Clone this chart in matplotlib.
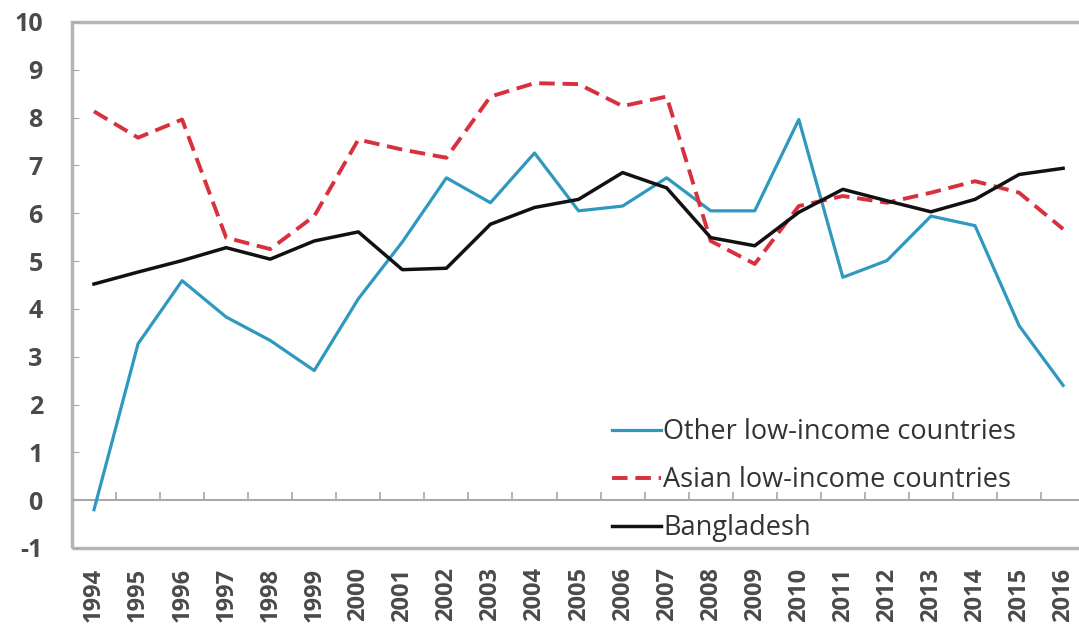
import matplotlib

matplotlib.use("Agg")
from matplotlib import pyplot as plt
from matplotlib.patches import Rectangle

plt.rcParams["font.family"] = ["Open Sans", "DejaVu Sans"]

years = [str(y) for y in range(1994, 2017)]
other_low = [-0.2, 3.27, 4.59, 3.83, 3.34, 2.71, 4.21, 5.4, 6.74, 6.22, 7.26, 6.05,
             6.15, 6.74, 6.05, 6.05, 7.96, 4.66, 5.01, 5.94, 5.74, 3.65, 2.4]
asian_low = [8.13, 7.58, 7.96, 5.49, 5.25, 5.94, 7.54, 7.33, 7.16, 8.44, 8.72, 8.7,
             8.24, 8.44, 5.42, 4.94, 6.15, 6.36, 6.22, 6.43, 6.67, 6.43, 5.67]
bangladesh = [4.52, 4.77, 5.01, 5.28, 5.04, 5.42, 5.61, 4.82, 4.85, 5.77, 6.12, 6.29,
              6.85, 6.53, 5.49, 5.32, 6.02, 6.5, 6.26, 6.03, 6.29, 6.81, 6.94]
yticks = list(range(-1, 11))

fig = plt.figure(figsize=(10.79, 6.27), dpi=100)
ax = fig.add_axes([0.0667, 0.126, 0.939, 0.839])

x = list(range(len(years)))
ax.plot(x, other_low, color="#2f98be", lw=2.3, label="Other low-income countries")
ax.plot(x, asian_low, color="#d8303c", lw=2.8, ls=(0, (4, 2)),
        label="Asian low-income countries")
ax.plot(x, bangladesh, color="#111111", lw=2.5, label="Bangladesh")

ax.set_xlim(-0.5, len(years) - 0.5)
ax.set_ylim(-1, 10)

for s in ax.spines.values():
    s.set_visible(False)
ax.add_patch(Rectangle((0, 0), 1, 1, transform=ax.transAxes, fill=False,
                       ec="#b5b5b5", lw=2.5, clip_on=False))

# zero axis with category-boundary ticks
ax.axhline(0, color="#a8a8a8", lw=1.5, zorder=1)
ax.vlines([i + 0.5 for i in x[:-1]], 0, 0.18, color="#a8a8a8", lw=1.2, zorder=1)

ax.set_yticks(yticks)
ax.set_yticklabels([str(v) for v in yticks], fontsize=18, color="#4a4a4a",
                   fontweight="bold")
ax.tick_params(axis="y", direction="in", length=5, color="#a8a8a8", pad=21)
ax.set_xticks(x)
ax.set_xticklabels(years, rotation=90, fontsize=17, color="#4a4a4a",
                   fontweight="bold")
ax.tick_params(axis="x", length=0, pad=14)

leg = ax.legend(loc="upper left", bbox_to_anchor=(0.533, 0.247), frameon=False,
                fontsize=19.5, handlelength=1.8, handletextpad=0.1,
                labelspacing=0.74, borderaxespad=0, borderpad=0)
for t in leg.get_texts():
    t.set_color("#333333")

fig.savefig("out.png", dpi=100)
